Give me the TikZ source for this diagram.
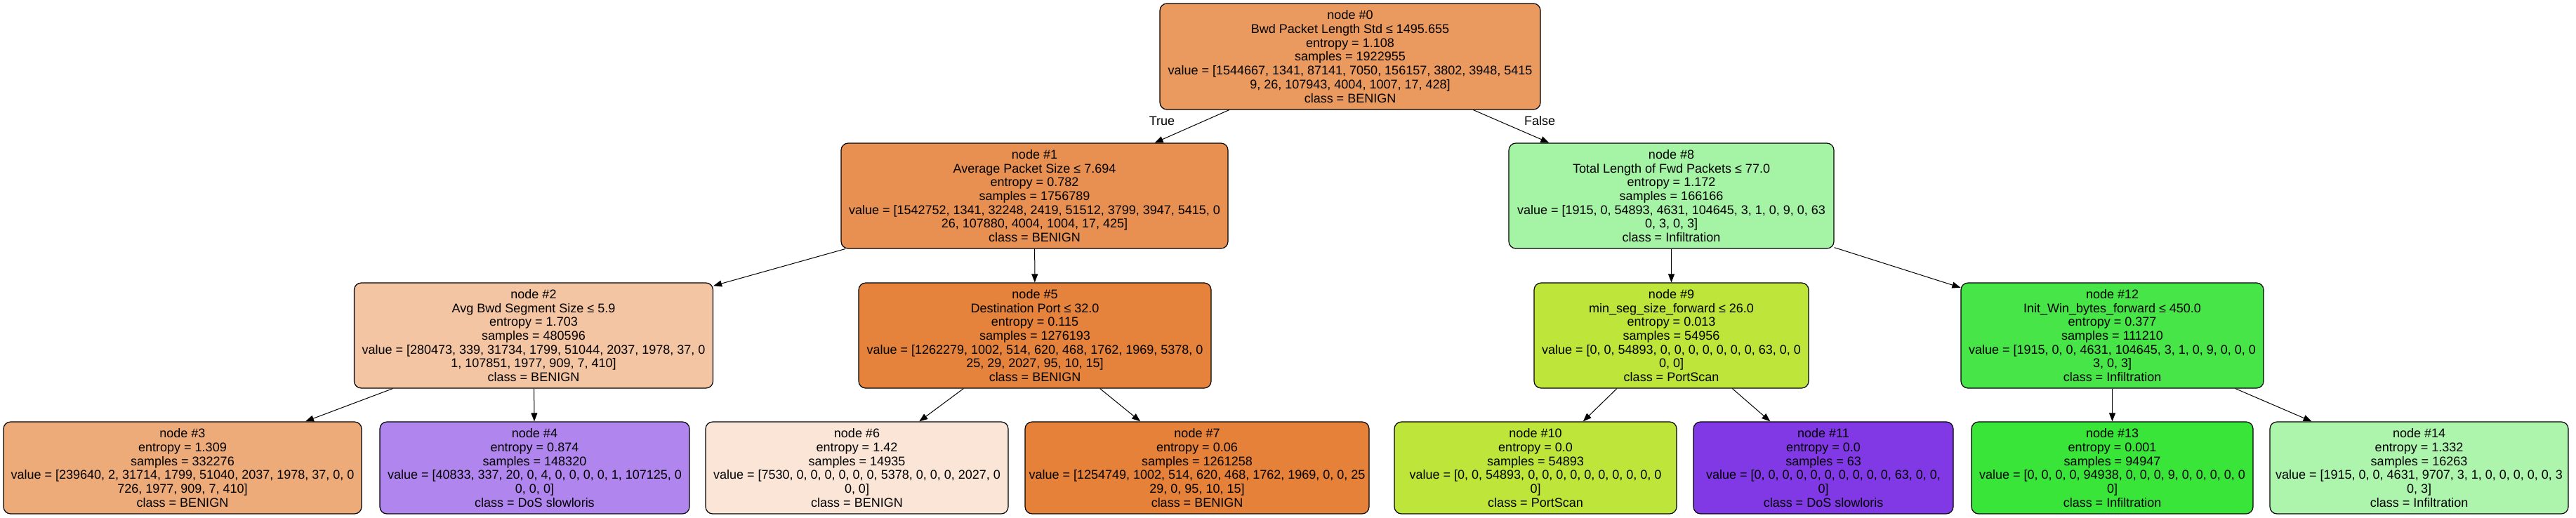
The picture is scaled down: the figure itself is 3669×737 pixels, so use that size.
\documentclass[tikz,border=0pt]{standalone}
\usepackage{fontspec}
\setmainfont{Liberation Sans}
\usetikzlibrary{arrows.meta}
\definecolor{c0}{HTML}{EA9A5F}
\definecolor{c1}{HTML}{E89051}
\definecolor{c2}{HTML}{F4C5A2}
\definecolor{c3}{HTML}{EEAB7A}
\definecolor{c4}{HTML}{B185EE}
\definecolor{c5}{HTML}{E5833C}
\definecolor{c6}{HTML}{FAE5D6}
\definecolor{c7}{HTML}{E58139}
\definecolor{c8}{HTML}{A5F3A5}
\definecolor{c9}{HTML}{BEE539}
\definecolor{c10}{HTML}{BEE539}
\definecolor{c11}{HTML}{8139E5}
\definecolor{c12}{HTML}{47E547}
\definecolor{c13}{HTML}{39E539}
\definecolor{c14}{HTML}{ADF4AD}
\tikzset{
  tn/.style={draw=black, line width=1.2pt, rounded corners=10pt, align=center, inner sep=0pt,
    font=\fontsize{18}{19.7}\selectfont},
  inner/.style={tn, minimum height=150pt},
  leaf/.style={tn, minimum height=131pt},
  edge/.style={draw=black, line width=1pt, -{Triangle[length=12pt,width=9pt]}},
  elab/.style={font=\fontsize{18}{19.7}\selectfont, inner sep=0pt}
}
\begin{document}
\begin{tikzpicture}[x=1pt,y=-1pt]
\useasboundingbox (0,0) rectangle (3669,737);
\node[inner, fill=c0, minimum width=542pt, minimum height=151pt] (n0) at (1923,80.5) {node \#0\\Bwd Packet Length Std ≤ 1495.655\\entropy = 1.108\\samples = 1922955\\value = [1544667, 1341, 87141, 7050, 156157, 3802, 3948, 5415\\9, 26, 107943, 4004, 1007, 17, 428]\\class = BENIGN};
\node[inner, fill=c1, minimum width=551pt] (n1) at (1473.5,279) {node \#1\\Average Packet Size ≤ 7.694\\entropy = 0.782\\samples = 1756789\\value = [1542752, 1341, 32248, 2419, 51512, 3799, 3947, 5415, 0\\26, 107880, 4004, 1004, 17, 425]\\class = BENIGN};
\node[inner, fill=c8, minimum width=463pt] (n8) at (2380.5,279) {node \#8\\Total Length of Fwd Packets ≤ 77.0\\entropy = 1.172\\samples = 166166\\value = [1915, 0, 54893, 4631, 104645, 3, 1, 0, 9, 0, 63\\0, 3, 0, 3]\\class = Infiltration};
\node[inner, fill=c2, minimum width=511pt] (n2) at (760,478) {node \#2\\Avg Bwd Segment Size ≤ 5.9\\entropy = 1.703\\samples = 480596\\value = [280473, 339, 31734, 1799, 51044, 2037, 1978, 37, 0\\1, 107851, 1977, 909, 7, 410]\\class = BENIGN};
\node[inner, fill=c5, minimum width=502pt] (n5) at (1474,478) {node \#5\\Destination Port ≤ 32.0\\entropy = 0.115\\samples = 1276193\\value = [1262279, 1002, 514, 620, 468, 1762, 1969, 5378, 0\\25, 29, 2027, 95, 10, 15]\\class = BENIGN};
\node[inner, fill=c9, minimum width=391pt] (n9) at (2380.5,478) {node \#9\\min\_seg\_size\_forward ≤ 26.0\\entropy = 0.013\\samples = 54956\\value = [0, 0, 54893, 0, 0, 0, 0, 0, 0, 0, 63, 0, 0\\0, 0]\\class = PortScan};
\node[inner, fill=c12, minimum width=431pt] (n12) at (3008.5,478) {node \#12\\Init\_Win\_bytes\_forward ≤ 450.0\\entropy = 0.377\\samples = 111210\\value = [1915, 0, 0, 4631, 104645, 3, 1, 0, 9, 0, 0, 0\\3, 0, 3]\\class = Infiltration};
\node[leaf, fill=c3, minimum width=510pt] (n3) at (260,666.5) {node \#3\\entropy = 1.309\\samples = 332276\\value = [239640, 2, 31714, 1799, 51040, 2037, 1978, 37, 0, 0\\726, 1977, 909, 7, 410]\\class = BENIGN};
\node[leaf, fill=c4, minimum width=441pt] (n4) at (761.5,666.5) {node \#4\\entropy = 0.874\\samples = 148320\\value = [40833, 337, 20, 0, 4, 0, 0, 0, 0, 1, 107125, 0\\0, 0, 0]\\class = DoS slowloris};
\node[leaf, fill=c6, minimum width=431pt] (n6) at (1220.5,666.5) {node \#6\\entropy = 1.42\\samples = 14935\\value = [7530, 0, 0, 0, 0, 0, 0, 5378, 0, 0, 0, 2027, 0\\0, 0]\\class = BENIGN};
\node[leaf, fill=c7, minimum width=490pt] (n7) at (1705,666.5) {node \#7\\entropy = 0.06\\samples = 1261258\\value = [1254749, 1002, 514, 620, 468, 1762, 1969, 0, 0, 25\\29, 0, 95, 10, 15]\\class = BENIGN};
\node[leaf, fill=c10, minimum width=402pt] (n10) at (2187,666.5) {node \#10\\entropy = 0.0\\samples = 54893\\value = [0, 0, 54893, 0, 0, 0, 0, 0, 0, 0, 0, 0, 0\\0]\\class = PortScan};
\node[leaf, fill=c11, minimum width=370pt] (n11) at (2597,666.5) {node \#11\\entropy = 0.0\\samples = 63\\value = [0, 0, 0, 0, 0, 0, 0, 0, 0, 0, 63, 0, 0,\\0]\\class = DoS slowloris};
\node[leaf, fill=c13, minimum width=401pt] (n13) at (3008.5,666.5) {node \#13\\entropy = 0.001\\samples = 94947\\value = [0, 0, 0, 0, 94938, 0, 0, 0, 9, 0, 0, 0, 0, 0\\0]\\class = Infiltration};
\node[leaf, fill=c14, minimum width=425pt] (n14) at (3445.5,666.5) {node \#14\\entropy = 1.332\\samples = 16263\\value = [1915, 0, 0, 4631, 9707, 3, 1, 0, 0, 0, 0, 0, 3\\0, 3]\\class = Infiltration};
\draw[edge] (n0) -- (n1);
\draw[edge] (n0) -- (n8);
\draw[edge] (n1) -- (n2);
\draw[edge] (n1) -- (n5);
\draw[edge] (n2) -- (n3);
\draw[edge] (n2) -- (n4);
\draw[edge] (n5) -- (n6);
\draw[edge] (n5) -- (n7);
\draw[edge] (n8) -- (n9);
\draw[edge] (n8) -- (n12);
\draw[edge] (n9) -- (n10);
\draw[edge] (n9) -- (n11);
\draw[edge] (n12) -- (n13);
\draw[edge] (n12) -- (n14);
\node[elab] (ltrue) at (1655,172) {True};
\node[elab] (lfalse) at (2193,172) {False};
\end{tikzpicture}
\end{document}
